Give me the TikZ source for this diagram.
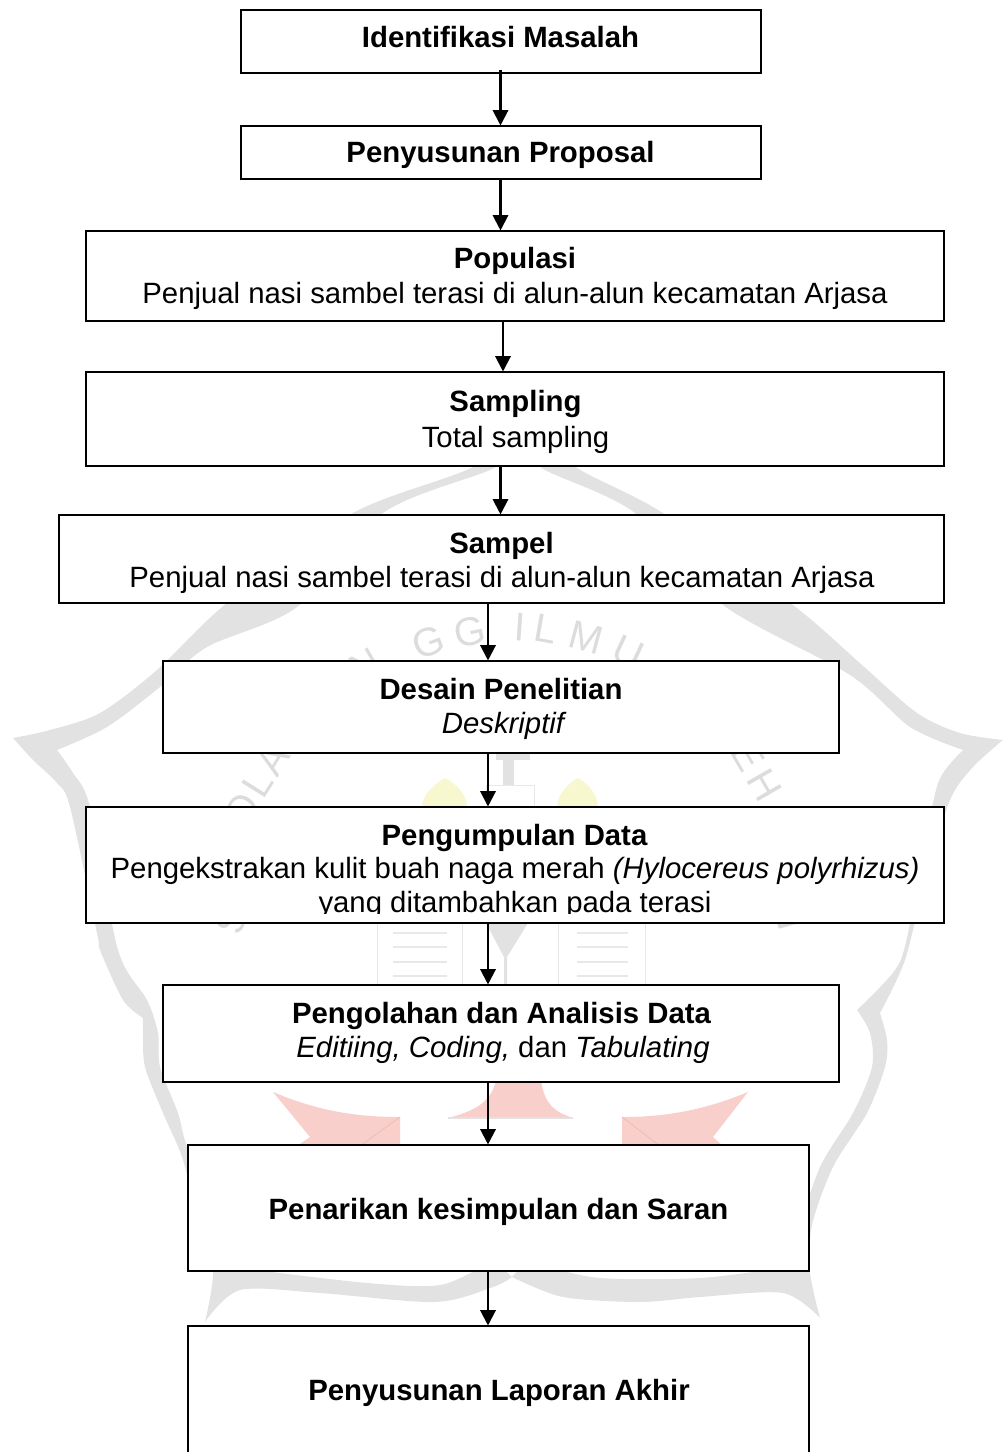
\documentclass[tikz,border=0pt]{standalone}
\usepackage{fontspec}
\setmainfont{Liberation Sans}
\usetikzlibrary{arrows.meta}
\definecolor{wmgray}{HTML}{E2E2E2}
\definecolor{wmtext}{HTML}{DCDCDC}
\definecolor{wmpink}{HTML}{F9CFCB}
\definecolor{wmfold}{HTML}{F6BDB8}
\definecolor{wmyellow}{HTML}{F8F8D0}
\definecolor{wmline}{HTML}{E8E8E8}
\tikzset{
  flowbox/.style={draw=black,fill=white,line width=1.6pt,rectangle,inner sep=0pt},
  flowarrow/.style={draw=black,line width=1.6pt,-{Triangle[length=11.5pt,width=11.5pt]},shorten >=-0.4pt},
  label text/.style={anchor=base,inner sep=0pt,font=\fontsize{22pt}{26pt}\selectfont,text=black},
  wmletter/.style={inner sep=0pt,text=wmtext,font=\fontsize{30pt}{30pt}\selectfont}
}
\newcommand{\flowrect}[5]{%
  \node[flowbox,minimum width={(#4-#2)*0.75pt},minimum height={(#5-#3)*0.75pt}] (#1) at ({(#2+#4)/2},{(#3+#5)/2}) {};}
\begin{document}
\begin{tikzpicture}[x=0.75pt,y=-0.75pt]
\useasboundingbox (0,0) rectangle (1003,1452);
% --- watermark
\fill[wmgray] (522,425) -- plot[smooth,tension=.5] coordinates {(522,425)(577,468)(663,513)(793,605)(862,665)(917,713)(960,733)(1003,740)}
  -- plot[smooth,tension=.5] coordinates {(1003,740)(973,767)(950,800)(925,880)(905,960)(880,1013)}
  -- plot[smooth,tension=.5] coordinates {(880,1013)(887,1040)(885,1067)(867,1113)(833,1167)(812,1225)(810,1272)(820,1318)}
  -- plot[smooth,tension=.5] coordinates {(820,1318)(783,1293)(700,1297)(640,1302)(563,1297)(512,1277)}
  -- plot[smooth,tension=.5] coordinates {(512,1277)(533,1265)(600,1278)(700,1278)(780,1268)}
  -- (795,1240)
  -- plot[smooth,tension=.5] coordinates {(795,1240)(820,1167)(853,1113)(872,1067)(870,1033)(857,1010)}
  -- plot[smooth,tension=.5] coordinates {(857,1010)(895,970)(908,933)(933,803)(943,773)(963,750)}
  -- plot[smooth,tension=.5] coordinates {(963,750)(910,727)(850,675)(723,605)(635,513)(545,470)(522,450)}
  -- cycle;
\fill[wmgray] (522,425) -- plot[smooth,tension=.5] coordinates {(522,425)(473,467)(353,513)(227,603)(157,670)(100,713)(50,730)(13,738)}
  -- plot[smooth,tension=.5] coordinates {(13,738)(33,760)(57,783)(70,807)(97,933)(100,950)(123,1000)(143,1018)}
  -- plot[smooth,tension=.5] coordinates {(143,1018)(143,1033)(145,1067)(163,1113)(183,1160)(200,1230)(213,1272)(205,1322)}
  -- plot[smooth,tension=.5] coordinates {(205,1322)(240,1290)(320,1293)(435,1302)(493,1287)(512,1277)}
  -- plot[smooth,tension=.5] coordinates {(512,1277)(490,1265)(440,1285)(367,1283)(240,1268)}
  -- (215,1220)
  -- plot[smooth,tension=.5] coordinates {(215,1220)(187,1147)(178,1113)(160,1067)(158,1033)(147,1000)(118,950)(90,807)(73,773)(57,750)}
  -- plot[smooth,tension=.5] coordinates {(57,750)(107,727)(160,687)(207,647)(297,607)(383,513)(490,470)(522,450)}
  -- cycle;
% red wings and centre
\fill[wmpink] (273,1092) .. controls (320,1112) and (360,1117) .. (400,1117) -- (400,1146) -- (297,1146) -- (310,1137) -- cycle;
\fill[wmpink] (748,1092) .. controls (700,1112) and (660,1117) .. (622,1117) -- (622,1146) -- (723,1146) -- (713,1137) -- cycle;
\fill[wmpink] (496,1081) .. controls (490,1105) and (470,1112) .. (448,1118) -- (573,1118) .. controls (555,1112) and (545,1105) .. (541,1081) -- cycle;
\draw[wmfold,line width=.75pt] (400,1117) -- (360,1146) (622,1117) -- (660,1146);
\draw[wmgray,line width=1.1pt] (448,1118) -- (573,1118);
% flames
\fill[wmyellow] (422,807) .. controls (422,795) and (435,783) .. (445,778) .. controls (456,783) and (467,795) .. (467,807) -- cycle;
\fill[wmyellow] (557,807) .. controls (557,795) and (568,783) .. (578,778) .. controls (588,783) and (598,795) .. (598,807) -- cycle;
% torch body
\fill[wmgray] (503,752) rectangle (514,785);
\fill[wmgray] (496,752) rectangle (530,760);
\draw[wmline,line width=.75pt,fill=white] (486,785) rectangle (534,807);
% book
\draw[wmline,line width=.75pt] (377,985) -- (377,923) (462,985) -- (462,923) (558,985) -- (558,923) (645,985) -- (645,923);
\draw[wmline,line width=1.1pt] (393,933) -- (447,933) (393,947) -- (447,947) (393,962) -- (447,962) (393,976) -- (447,976)
  (577,933) -- (628,933) (577,947) -- (628,947) (577,962) -- (628,962) (577,976) -- (628,976);
\fill[wmgray] (486,923) -- (528,923) -- (507,957) -- (507,985) -- (504,985) -- (504,957) -- cycle;
% letters
\node[wmletter,rotate=30] (wN) at (365,665) {N};
\node[wmletter,rotate=20] (wG) at (428,642) {G};
\node[wmletter,rotate=12] (wGb) at (470,632) {G};
\node[wmletter,rotate=-4] (wI) at (520,627) {I};
\node[wmletter,rotate=-10] (wL) at (546,629) {L};
\node[wmletter,rotate=-15] (wM) at (586,638) {M};
\node[wmletter,rotate=-25] (wU) at (628,652) {U};
\node[wmletter,rotate=58] (wOLA) at (257,786) {O\kern3pt L\kern3pt A};
\node[wmletter,rotate=-60] (wEH) at (757,771) {E\kern4pt H};
\node[wmletter,rotate=75] (wS) at (232,920) {S};
\node[wmletter,rotate=-75] (wNb) at (790,915) {N};
% --- boxes
\flowrect{a}{241}{10}{761}{73}
\flowrect{b}{241}{126}{761}{179}
\flowrect{c}{86}{231}{944}{321}
\flowrect{d}{86}{372}{944}{466}
\flowrect{e}{59}{515}{944}{603}
\flowrect{f}{163}{661}{839}{753}
\flowrect{g}{86}{807}{944}{923}
\flowrect{h}{163}{985}{839}{1082}
\flowrect{i}{188}{1145}{809}{1271}
\flowrect{j}{188}{1326}{809}{1455}
% --- text
\node[label text] (ta) at (500.5,48) {\bfseries Identifikasi Masalah};
\node[label text] (tb) at (500.5,163) {\bfseries Penyusunan Proposal};
\node[label text] (tc) at (515,268) {\bfseries Populasi};
\node[label text] (tcb) at (515,303) {Penjual nasi sambel terasi di alun-alun kecamatan Arjasa};
\node[label text] (td) at (515.5,411) {\bfseries Sampling};
\node[label text] (tdb) at (515.5,447) {Total sampling};
\node[label text] (te) at (501.5,553) {\bfseries Sampel};
\node[label text] (teb) at (502,587) {Penjual nasi sambel terasi di alun-alun kecamatan Arjasa};
\node[label text] (tf) at (501,699) {\bfseries Desain Penelitian};
\node[label text] (tfb) at (503,733) {\itshape Deskriptif};
\node[label text] (tg) at (514.5,845) {\bfseries Pengumpulan Data};
\node[label text] (tgb) at (515,878) {Pengekstrakan kulit buah naga merah \itshape (Hylocereus polyrhizus)};
\begin{scope}
\clip (86,885) rectangle (944,913);
\node[label text] (tgc) at (515,912) {yang ditambahkan pada terasi};
\end{scope}
\node[label text] (th) at (501.5,1023) {\bfseries Pengolahan dan Analisis Data};
\node[label text] (thb) at (503,1057) {\itshape Editiing, Coding, \upshape dan \itshape Tabulating};
\node[label text] (ti) at (498.5,1219) {\bfseries Penarikan kesimpulan dan Saran};
\node[label text] (tj) at (499,1400) {\bfseries Penyusunan Laporan Akhir};
% --- connectors
\coordinate (xu) at (500.5,0);
\coordinate (xm) at (503,0);
\coordinate (xl) at (488,0);
\draw[flowarrow] ([yshift=3pt]a.south -| xu) -- (b.north -| xu);
\draw[flowarrow] (b.south -| xu) -- (c.north -| xu);
\draw[flowarrow] (c.south -| xm) -- (d.north -| xm);
\draw[flowarrow] (d.south -| xu) -- (e.north -| xu);
\draw[flowarrow] (e.south -| xl) -- (f.north -| xl);
\draw[flowarrow] (f.south -| xl) -- (g.north -| xl);
\draw[flowarrow] (g.south -| xl) -- (h.north -| xl);
\draw[flowarrow] (h.south -| xl) -- (i.north -| xl);
\draw[flowarrow] (i.south -| xl) -- (j.north -| xl);
\end{tikzpicture}
\end{document}
